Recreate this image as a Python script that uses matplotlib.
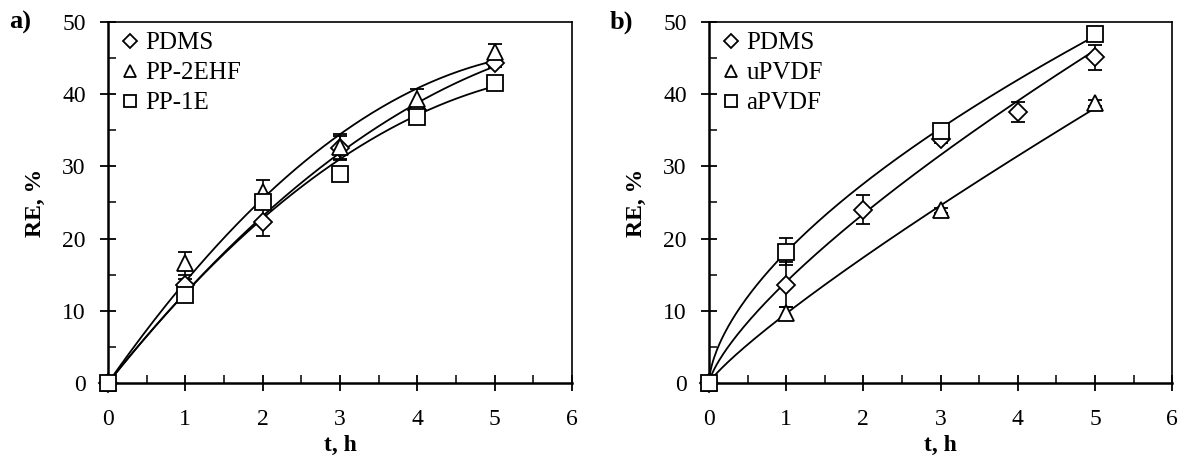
import numpy as np
import matplotlib
matplotlib.use("Agg")
from matplotlib import pyplot as plt
from matplotlib.ticker import MultipleLocator
from matplotlib.lines import Line2D

plt.rcParams['font.family'] = 'serif'
plt.rcParams['font.serif'] = ['Liberation Serif', 'DejaVu Serif']

# panel a)
t_a = [0, 1, 2, 3, 4, 5]
pdms_a = [0, 13.6, 22.3, 32.6, 37.8, 44.3]
pdms_a_err = [0, 0.8, 2.0, 1.6, 0.6, 0.6]
pp2ehf = [0, 16.6, 26.5, 32.7, 39.4, 45.9]
pp2ehf_err = [0, 1.6, 1.6, 1.8, 1.3, 1.0]
pp1e = [0, 12.2, 25.1, 29.0, 36.9, 41.6]
pp1e_err = [0, 0.4, 0.6, 0.5, 0.5, 0.4]

# panel b)
t_pdms_b = [0, 1, 2, 3, 4, 5]
pdms_b = [0, 13.6, 24.0, 33.8, 37.5, 45.1]
pdms_b_err = [0, 3.1, 2.0, 0.5, 1.4, 1.7]
t_pvdf = [0, 1, 3, 5]
upvdf = [0, 9.7, 23.9, 38.8]
upvdf_err = [0, 0.8, 0.3, 0.4]
apvdf = [0, 18.2, 34.9, 48.4]
apvdf_err = [0, 1.9, 0.5, 0.9]


def quad_fit(x, y):
    # quadratic trend through origin
    x = np.asarray(x, float)
    y = np.asarray(y, float)
    A = np.column_stack([x**2, x])
    c, *_ = np.linalg.lstsq(A, y, rcond=None)
    xs = np.linspace(0, 5, 200)
    return xs, c[0] * xs**2 + c[1] * xs


def power_fit(x, y):
    x = np.asarray(x, float)
    y = np.asarray(y, float)
    m = x > 0
    b, lna = np.polyfit(np.log(x[m]), np.log(y[m]), 1)
    xs = np.linspace(0, 5, 300)
    return xs, np.exp(lna) * xs**b


markers = [('D', 9), ('^', 11), ('s', 11)]


def style_axes(ax, labels):
    ax.set_xlim(0, 6)
    ax.set_ylim(0, 50)
    ax.xaxis.set_major_locator(MultipleLocator(1))
    ax.xaxis.set_minor_locator(MultipleLocator(0.5))
    ax.yaxis.set_major_locator(MultipleLocator(10))
    ax.yaxis.set_minor_locator(MultipleLocator(5))
    ax.tick_params(which='major', direction='inout', length=12, width=1.3,
                   labelsize=17, top=False, right=False)
    ax.tick_params(which='minor', direction='in', length=6, width=1.1,
                   top=False, right=False)
    ax.tick_params(axis='y', which='major', pad=10)
    ax.tick_params(axis='x', which='major', pad=13)
    for s in ['left', 'bottom']:
        ax.spines[s].set_linewidth(1.8)
    for s in ['top', 'right']:
        ax.spines[s].set_linewidth(1.2)
    ax.set_xlabel('t, h', fontsize=17, fontweight='bold', labelpad=3)
    ax.set_ylabel('RE, %', fontsize=17, fontweight='bold', labelpad=12)
    handles = [Line2D([], [], ls='none', marker=m, ms=s * 0.8, mfc='white',
                      mec='black', mew=1.3) for m, s in markers]
    ax.legend(handles, labels, loc='upper left', frameon=False, fontsize=18,
              handletextpad=0.1, labelspacing=0.3, borderaxespad=0.2,
              handlelength=1.0, borderpad=0.2)


mk = dict(mfc='white', mec='black', mew=1.3, ls='none', ecolor='black',
          elinewidth=1.2, capsize=5, capthick=1.2, zorder=3, clip_on=False)

fig = plt.figure(figsize=(11.84, 4.58), dpi=100)
ax1 = fig.add_axes([0.0912, 0.1638, 0.3919, 0.7882])
ax2 = fig.add_axes([0.5988, 0.1638, 0.3912, 0.7882])

for x, y in [(t_a, pdms_a), (t_a, pp2ehf), (t_a, pp1e)]:
    xs, ys = quad_fit(x, y)
    ax1.plot(xs, ys, color='black', lw=1.3, zorder=2)
for (x, y, e), (m, s) in zip([(t_a, pdms_a, pdms_a_err), (t_a, pp2ehf, pp2ehf_err),
                              (t_a, pp1e, pp1e_err)], markers):
    ax1.errorbar(x, y, yerr=e, marker=m, ms=s, **mk)
style_axes(ax1, ['PDMS', 'PP-2EHF', 'PP-1E'])

for x, y in [(t_pdms_b, pdms_b), (t_pvdf, upvdf), (t_pvdf, apvdf)]:
    xs, ys = power_fit(x, y)
    ax2.plot(xs, ys, color='black', lw=1.3, zorder=2)
for (x, y, e), (m, s) in zip([(t_pdms_b, pdms_b, pdms_b_err), (t_pvdf, upvdf, upvdf_err),
                              (t_pvdf, apvdf, apvdf_err)], markers):
    ax2.errorbar(x, y, yerr=e, marker=m, ms=s, **mk)
style_axes(ax2, ['PDMS', 'uPVDF', 'aPVDF'])

fig.text(0.008, 0.952, 'a)', fontsize=19, fontweight='bold', va='center')
fig.text(0.515, 0.952, 'b)', fontsize=19, fontweight='bold', va='center')

fig.savefig('out.png', dpi=100)
